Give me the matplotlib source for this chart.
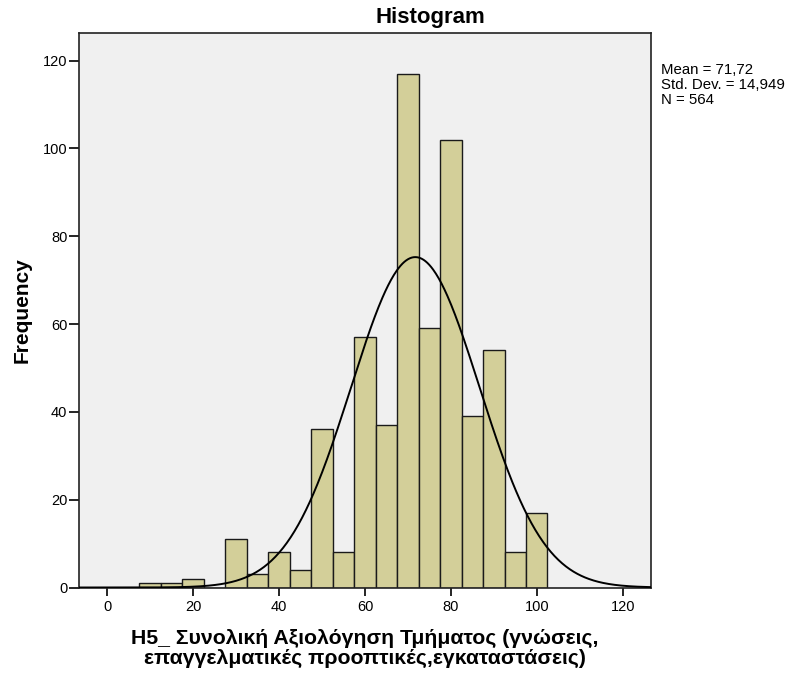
import numpy as np
import matplotlib
matplotlib.use("Agg")
import matplotlib.pyplot as plt

plt.rcParams['font.family'] = ['Liberation Sans', 'DejaVu Sans']

# Data
bin_centers = [10, 15, 20, 25, 30, 35, 40, 45, 50, 55, 60, 65, 70, 75, 80, 85, 90, 95, 100]
counts = [1, 1, 2, 0, 11, 3, 8, 4, 36, 8, 57, 37, 117, 59, 102, 39, 54, 8, 17]
bin_width = 5
mean_val = 71.72
std_val = 14.949
n_val = 564
x_ticks = [0, 20, 40, 60, 80, 100, 120]
y_ticks = [0, 20, 40, 60, 80, 100, 120]

fig = plt.figure(figsize=(7.89, 6.77), dpi=100)
ax = fig.add_axes([78.5/789, 1-587.5/677, (651-78.5)/789, (587.5-33)/677])
ax.set_facecolor('#F0F0F0')

ax.bar(bin_centers, counts, width=bin_width, color='#D3CF99',
       edgecolor='#1a1a1a', linewidth=1.0, zorder=2)

xs = np.linspace(-6.7, 126.6, 600)
ys = n_val * bin_width / (std_val * np.sqrt(2*np.pi)) * np.exp(-0.5*((xs-mean_val)/std_val)**2)
ax.plot(xs, ys, color='black', linewidth=1.4, zorder=3)

ax.set_xlim(-6.7, 126.6)
ax.set_ylim(0, 126.3)
ax.set_xticks(x_ticks)
ax.set_yticks(y_ticks)
ax.tick_params(axis='x', length=6, width=1.2, pad=3, labelsize=10.5, direction='out')
ax.tick_params(axis='y', length=7, width=1.2, pad=1, labelsize=10.5, direction='out')
for s in ax.spines.values():
    s.set_color('#222222')
    s.set_linewidth(1.2)

fig.text(430/789, 1-23/677, 'Histogram', fontsize=16, fontweight='bold',
         ha='center', va='baseline')
ax.set_ylabel('Frequency', fontsize=15, fontweight='bold', labelpad=8)
ax.set_xlabel('H5_ Συνολική Αξιολόγηση Τμήματος (γνώσεις,\nεπαγγελματικές προοπτικές,εγκαταστάσεις)',
              fontsize=15.3, fontweight='bold', labelpad=11, linespacing=1.02)

fig.text(661/789, 1-63/677,
         'Mean = 71,72\nStd. Dev. = 14,949\nN = 564',
         fontsize=10.8, va='top', ha='left', linespacing=1.08)

fig.savefig('out.png', dpi=100, facecolor='white')
